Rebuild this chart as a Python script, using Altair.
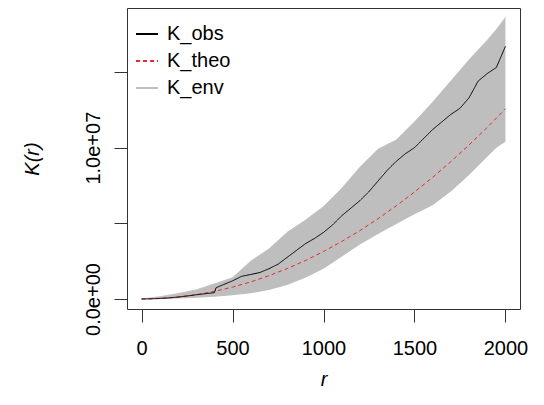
import altair as alt
import pandas as pd

# ---- data ----
r_env = [0, 100, 200, 300, 400, 500, 600, 700, 800, 900, 1000, 1100, 1200,
         1300, 1400, 1500, 1600, 1700, 1800, 1900, 1950, 2000]
env_lo = [0, 1.0e4, 4.0e4, 8.0e4, 1.5e5, 2.5e5, 3.8e5, 6.0e5, 9.3e5, 1.4e6,
          2.0e6, 2.8e6, 3.6e6, 4.3e6, 4.95e6, 5.6e6, 6.2e6, 7.1e6, 8.2e6,
          9.4e6, 1.0e7, 1.04e7]
env_hi = [0, 1.5e5, 3.5e5, 6.0e5, 1.0e6, 1.4e6, 2.5e6, 3.3e6, 4.4e6, 5.2e6,
          6.1e6, 7.3e6, 8.7e6, 9.9e6, 1.05e7, 1.17e7, 1.30e7, 1.44e7, 1.58e7,
          1.71e7, 1.78e7, 1.86e7]

r_obs = [0, 50, 100, 150, 200, 250, 300, 350, 400, 410, 450, 500, 550, 600,
         650, 700, 750, 800, 850, 900, 950, 1000, 1050, 1100, 1150, 1200, 1250,
         1300, 1350, 1400, 1450, 1500, 1550, 1600, 1650, 1700, 1750, 1800, 1850,
         1900, 1950, 2000]
k_obs = [0, 1.0e4, 4.0e4, 7.0e4, 1.3e5, 2.0e5, 2.8e5, 3.5e5, 4.2e5, 7.5e5,
         9.5e5, 1.2e6, 1.5e6, 1.62e6, 1.75e6, 2.0e6, 2.3e6, 2.75e6, 3.2e6,
         3.65e6, 4.0e6, 4.4e6, 4.9e6, 5.5e6, 6.0e6, 6.5e6, 7.1e6, 7.8e6, 8.5e6,
         9.1e6, 9.6e6, 1.0e7, 1.06e7, 1.12e7, 1.17e7, 1.22e7, 1.26e7, 1.33e7,
         1.44e7, 1.49e7, 1.53e7, 1.67e7]

r_theo = [0, 100, 200, 300, 400, 500, 600, 700, 800, 900, 1000, 1100, 1200,
          1300, 1400, 1500, 1600, 1700, 1800, 1900, 2000]
k_theo = [0, 3.1e4, 1.26e5, 2.83e5, 5.03e5, 7.85e5, 1.13e6, 1.54e6, 2.01e6,
          2.54e6, 3.14e6, 3.80e6, 4.52e6, 5.31e6, 6.16e6, 7.07e6, 8.04e6,
          9.08e6, 1.018e7, 1.134e7, 1.257e7]

series = ["K_obs", "K_theo", "K_env"]
series_colors = ["#000000", "#e52b2b", "#bebebe"]
series_dash = [[1, 0], [4, 3], [1, 0]]

x_ticks = [0, 500, 1000, 1500, 2000]
y_ticks = [0, 5e6, 1e7, 1.5e7]
y_tick_labels = ["0.0e+00", "", "1.0e+07", ""]

# ---- tables ----
env_df = pd.DataFrame({"r": r_env, "lower": env_lo, "upper": env_hi})
lines_df = pd.concat([
    pd.DataFrame({"r": r_env, "K": env_hi, "series": "K_env"}),
    pd.DataFrame({"r": r_theo, "K": k_theo, "series": "K_theo"}),
    pd.DataFrame({"r": r_obs, "K": k_obs, "series": "K_obs"}),
], ignore_index=True)

label_expr = " : ".join(
    f"datum.value == {int(v)} ? '{t}'" for v, t in zip(y_ticks, y_tick_labels)
) + " : ''"

FONT = "Liberation Sans"
W, H = 393, 301

x_scale = alt.Scale(domain=[-80, 2080], nice=False, zero=False)
y_scale = alt.Scale(domain=[-6.6e5, 1.923e7], nice=False, zero=False)

x_axis = alt.Axis(values=x_ticks, format="d", title="r",
                  titleFontStyle="italic",
                  labelPadding=16, titleX=W / 2, titleY=76,
                  titleBaseline="alphabetic", titleAlign="center",
                  labelFlush=False, labelOverlap=False)
y_axis = alt.Axis(values=y_ticks, title="K(r)", titleFontStyle="italic",
                  labelExpr=label_expr, labelAngle=270, labelAlign="center",
                  labelBaseline="alphabetic", labelPadding=15,
                  titleAngle=270, titleX=-89, titleY=H / 2,
                  titleBaseline="alphabetic", titleAlign="center",
                  labelFlush=False, labelOverlap=False)

legend_opts = dict(title=None, orient="none", legendX=8, legendY=14,
                   symbolType="stroke", symbolSize=484, symbolStrokeWidth=2,
                   labelFont=FONT, labelFontSize=20, labelColor="#000",
                   labelOffset=8, rowPadding=5, padding=0)

area = alt.Chart(env_df).mark_area(color="#bebebe", opacity=1).encode(
    x=alt.X("r:Q", scale=x_scale, axis=x_axis),
    y=alt.Y("lower:Q", scale=y_scale, axis=y_axis),
    y2="upper:Q",
)

lines = alt.Chart(lines_df).mark_line(strokeWidth=1).encode(
    x=alt.X("r:Q", scale=x_scale, axis=x_axis),
    y=alt.Y("K:Q", scale=y_scale, axis=y_axis),
    color=alt.Color("series:N",
                    scale=alt.Scale(domain=series, range=series_colors),
                    legend=alt.Legend(**legend_opts)),
    strokeDash=alt.StrokeDash("series:N",
                              scale=alt.Scale(domain=series, range=series_dash),
                              legend=alt.Legend(**legend_opts)),
)

chart = alt.layer(area, lines).properties(
    width=W, height=H,
    autosize=alt.AutoSizeParams(type="none"),
    padding={"left": 119, "top": 0, "right": 16, "bottom": 84},
    background="white",
).configure_view(
    stroke="#333333", strokeWidth=1,
).configure_axis(
    grid=False, domain=False, tickColor="#333333", tickSize=13, tickWidth=1,
    labelFont=FONT, labelFontSize=20, labelColor="#000000",
    titleFont=FONT, titleFontSize=20, titleColor="#000000",
    titleFontWeight="normal",
)

chart.save("out.html", embed_options={"renderer": "svg", "actions": False})
